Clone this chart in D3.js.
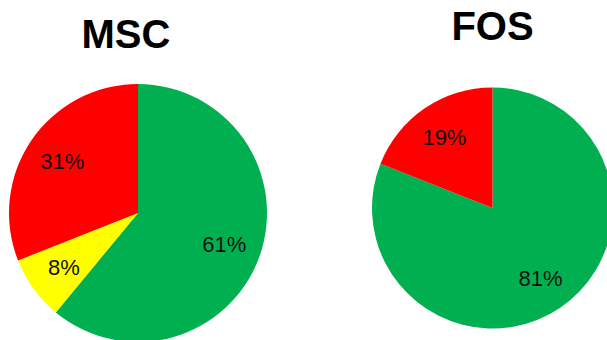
<!DOCTYPE html>
<html>
<head>
<meta charset="utf-8">
<script src="https://cdn.jsdelivr.net/npm/d3@7"></script>
<style>
  html, body { margin: 0; padding: 0; background: #fff; }
  svg { display: block; }
</style>
</head>
<body>
<svg id="chart" width="607" height="340"></svg>
<script>
// Rating categories and their share (%) for each scheme
const ratings = ["Green", "Yellow", "Red"];
const ratingColors = ["#00B050", "#FFFF00", "#FF0000"];
const schemes = ["MSC", "FOS"];
const mscShares = [61, 8, 31];
const fosShares = [81, 0, 19];

const svg = d3.select("#chart");
const color = d3.scaleOrdinal().domain(ratings).range(ratingColors);

const pies = [
  { title: schemes[0], values: mscShares, cx: 138, cy: 213, r: 129, titleX: 126, titleY: 48 },
  { title: schemes[1], values: fosShares, cx: 492.5, cy: 208, r: 120.5, titleX: 492.5, titleY: 40 }
];

const pie = d3.pie().sort(null).value(d => d.value);

pies.forEach(p => {
  const data = ratings.map((k, i) => ({ key: k, value: p.values[i] }));
  const arcs = pie(data).filter(a => a.data.value > 0);
  const arc = d3.arc().innerRadius(0).outerRadius(p.r);
  const labelArc = d3.arc().innerRadius(p.r * 0.71).outerRadius(p.r * 0.71);

  const g = svg.append("g").attr("transform", `translate(${p.cx},${p.cy})`);
  g.selectAll("path.slice")
    .data(arcs)
    .join("path")
    .attr("class", "slice")
    .attr("d", arc)
    .attr("fill", d => color(d.data.key));

  g.selectAll("text.lbl")
    .data(arcs)
    .join("text")
    .attr("class", "lbl")
    .attr("transform", d => `translate(${labelArc.centroid(d)})`)
    .attr("text-anchor", "middle")
    .attr("dy", "0.35em")
    .style("font-family", "'Liberation Sans', Arial, sans-serif")
    .style("font-size", "22px")
    .attr("fill", "#111")
    .text(d => d.data.value + "%");

  svg.append("text")
    .attr("x", p.titleX)
    .attr("y", p.titleY)
    .attr("text-anchor", "middle")
    .style("font-family", "'Liberation Sans', Arial, sans-serif")
    .style("font-weight", "bold")
    .style("font-size", "40px")
    .attr("fill", "#000")
    .text(p.title);
});
</script>
</body>
</html>
